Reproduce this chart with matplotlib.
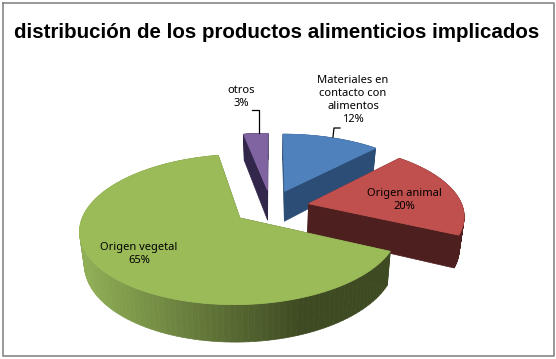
import numpy as np
import matplotlib
matplotlib.use('Agg')
import matplotlib.pyplot as plt

# data
labels = ['Materiales en\ncontacto con\nalimentos\n12%', 'Origen animal\n20%', 'Origen vegetal\n65%', 'otros\n3%']
shares = [12, 20, 65, 3]
top_colors = ['#4f81bd', '#c0504d', '#9bbb59', '#8064a2']
side_colors = ['#2c4d75', '#4d1f1e', '#3e4a22', '#32264a']
title = 'distribución de los productos alimenticios implicados'

# 3d look of the pie, in pixels
XC, YC = 271, 207
A, B, K = 154, 70, 0.15
EXPLODE = 0.25
DEPTH = 31


def project(u, v, low=False):
    d = 1 + K * v
    x = A * u / d
    y = YC - B * v / d
    if low:
        x = x * 0.975
        y = y + DEPTH / d
    return XC + x, y


def main():
    fig = plt.figure(figsize=(5.56, 3.59), dpi=100)
    ax = fig.add_axes([0, 0, 1, 1])
    ax.set_xlim(0, 556)
    ax.set_ylim(359, 0)
    ax.axis('off')

    ax.plot([2.5, 553.5, 553.5, 2.5, 2.5], [2.5, 2.5, 356, 356, 2.5], color='#868686', lw=1.2)

    ax.text(277, 32, title, family='Liberation Sans', weight='bold',
            fontsize=14.8, ha='center', va='center', color='black')

    # angles run clockwise from the top
    fr = np.array(shares) / sum(shares) * 2 * np.pi
    ends = np.pi / 2 - np.cumsum(fr)
    starts = ends + fr

    order = [3, 0, 1, 2]
    for i in order:
        a0, a1 = starts[i], ends[i]
        mid = (a0 + a1) / 2
        ou, ov = EXPLODE * np.cos(mid), EXPLODE * np.sin(mid)
        t = np.linspace(a0, a1, 121)
        ru, rv = ou + np.cos(t), ov + np.sin(t)

        # radial side faces
        for k in [0, -1]:
            us = [ou, ru[k]]
            vs = [ov, rv[k]]
            x0, y0 = project(np.array(us), np.array(vs))
            x1, y1 = project(np.array(us), np.array(vs), low=True)
            ax.fill(list(x0) + list(x1[::-1]), list(y0) + list(y1[::-1]),
                    color=side_colors[i], lw=0.5)

        # rim, the green one is shaded left to right
        x0, y0 = project(ru, rv)
        x1, y1 = project(ru, rv, low=True)
        for j in range(len(t) - 1):
            c = side_colors[i]
            if i == 2:
                s = np.interp((x0[j] + x0[j + 1]) / 2, [85, 300], [0, 1])
                c0 = np.array(matplotlib.colors.to_rgb('#8fae55'))
                c1 = np.array(matplotlib.colors.to_rgb(side_colors[i]))
                c = tuple(c0 * (1 - s) + c1 * s)
            ax.fill([x0[j], x0[j + 1], x1[j + 1], x1[j]], [y0[j], y0[j + 1], y1[j + 1], y1[j]],
                    color=c, lw=0.5)

        # top of the slice
        x, y = project(np.r_[ou, ru], np.r_[ov, rv])
        ax.fill(x, y, color=top_colors[i], lw=0.6)

    # leader lines
    ax.plot([252, 259, 259], [110, 110, 133], color='black', lw=0.9)
    ax.plot([333, 334, 340], [137, 128, 128], color='black', lw=0.9)

    pos = [(353, 100), (404, 200), (139, 254), (241, 97)]
    for s, (x, y) in zip(labels, pos):
        ax.text(x, y, s, family='Noto Sans', fontsize=8, ha='center', va='center',
                color='black', linespacing=1.23)

    fig.savefig('out.png', dpi=100)


if __name__ == '__main__':
    main()
